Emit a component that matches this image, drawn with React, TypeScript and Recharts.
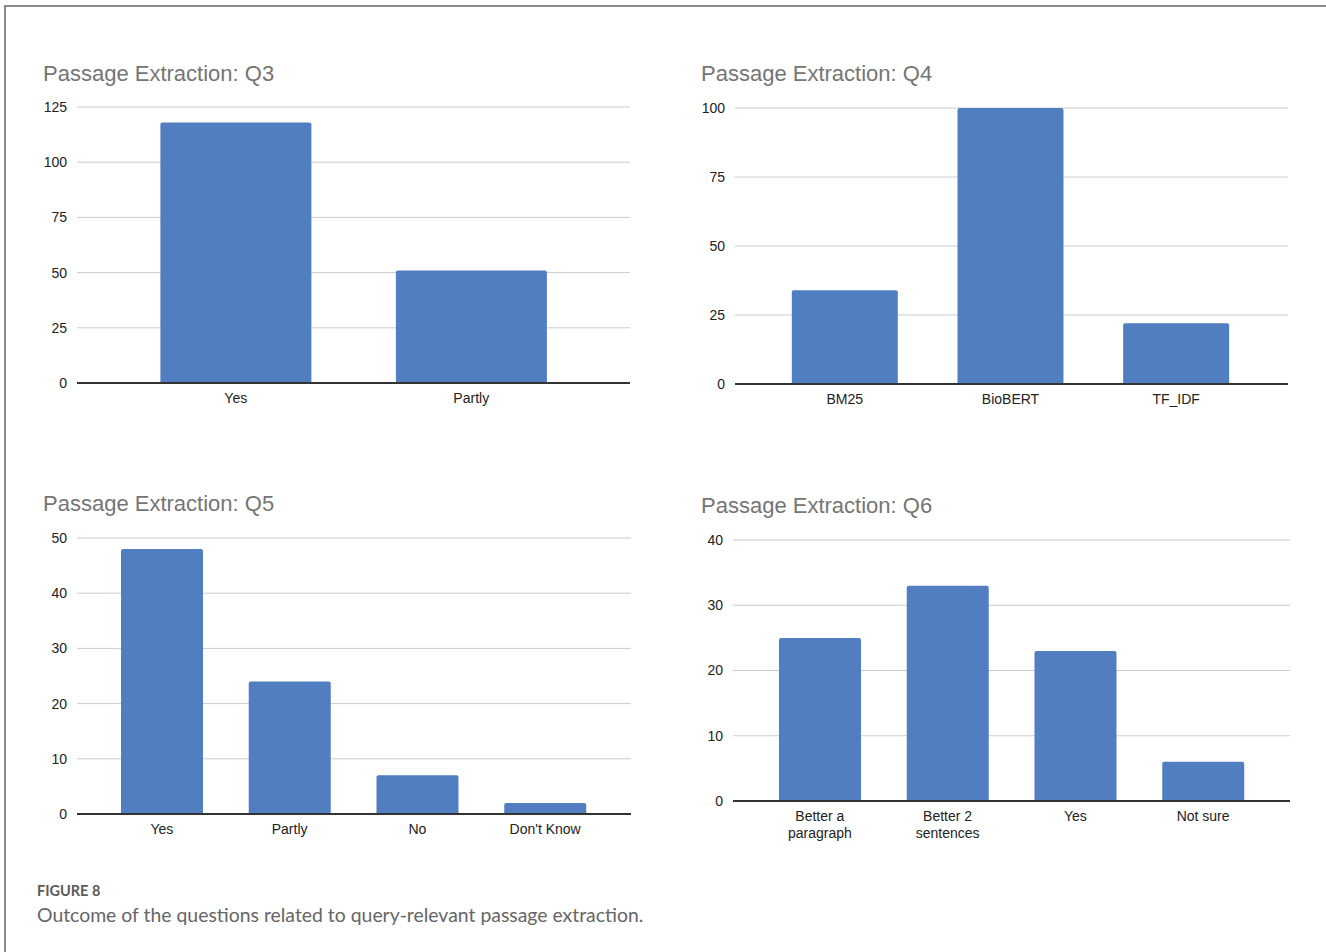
import React from "react";
import { Bar, BarChart, CartesianGrid, XAxis, YAxis } from "recharts";

// Passage Extraction survey answers
const q3Labels = ["Yes", "Partly"];
const q3Counts = [118, 51];
const q3Ticks = [0, 25, 50, 75, 100, 125];

const q4Labels = ["BM25", "BioBERT", "TF_IDF"];
const q4Counts = [34, 100, 22];
const q4Ticks = [0, 25, 50, 75, 100];

const q5Labels = ["Yes", "Partly", "No", "Don't Know"];
const q5Counts = [48, 24, 7, 2];
const q5Ticks = [0, 10, 20, 30, 40, 50];

const q6Labels = ["Better a paragraph", "Better 2 sentences", "Yes", "Not sure"];
const q6Counts = [25, 33, 23, 6];
const q6Ticks = [0, 10, 20, 30, 40];

const BAR_COLOR = "#507ec0";
const FONT = "'Liberation Sans', Arial, sans-serif";

function toRows(labels: string[], counts: number[]) {
  return labels.map((label, i) => ({ label, count: counts[i] }));
}

// wraps long category names onto two lines like the original
function WrappedTick(props: any) {
  const { x, y, payload } = props;
  const text: string = payload.value;
  let lines = [text];
  if (text.length > 12) {
    const cut = text.lastIndexOf(" ");
    lines = [text.slice(0, cut), text.slice(cut + 1)];
  }
  return (
    <text x={x} y={y} textAnchor="middle" fill="#222" fontSize={14} fontFamily={FONT}>
      {lines.map((line, i) => (
        <tspan key={i} x={x} dy={i === 0 ? "0.71em" : 17}>
          {line}
        </tspan>
      ))}
    </text>
  );
}

interface PanelProps {
  title: string;
  labels: string[];
  counts: number[];
  ticks: number[];
  left: number;
  top: number;
  width: number;
  height: number;
  axisWidth: number;
  pad: [number, number];
  titleLeft: number;
  titleTop: number;
}

function Panel(p: PanelProps) {
  const data = toRows(p.labels, p.counts);
  return (
    <>
      <div
        style={{
          position: "absolute",
          left: p.titleLeft,
          top: p.titleTop,
          fontSize: 22,
          lineHeight: "26px",
          color: "#757575",
          fontFamily: FONT,
          whiteSpace: "nowrap",
        }}
      >
        {p.title}
      </div>
      <div style={{ position: "absolute", left: p.left, top: p.top }}>
        <BarChart
          width={p.width}
          height={p.height}
          data={data}
          margin={{ top: 10, right: 10, left: 0, bottom: 4 }}
          barCategoryGap="18%"
        >
          <CartesianGrid vertical={false} stroke="#cccccc" strokeWidth={1} />
          <XAxis
            dataKey="label"
            height={40}
            interval={0}
            tickLine={false}
            tickSize={0}
            tickMargin={10}
            padding={{ left: p.pad[0], right: p.pad[1] }}
            axisLine={{ stroke: "#333333", strokeWidth: 2 }}
            tick={<WrappedTick />}
          />
          <YAxis
            width={p.axisWidth}
            domain={[0, p.ticks[p.ticks.length - 1]]}
            ticks={p.ticks}
            axisLine={false}
            tickLine={false}
            tickSize={0}
            tickMargin={10}
            tick={{ fill: "#222222", fontSize: 14, fontFamily: FONT }}
          />
          <Bar dataKey="count" fill={BAR_COLOR} radius={[2, 2, 0, 0]} isAnimationActive={false} />
        </BarChart>
      </div>
    </>
  );
}

export default function App() {
  return (
    <div
      style={{
        position: "absolute",
        left: 0,
        top: 0,
        width: 1326,
        height: 952,
        overflow: "hidden",
        background: "#fff",
        fontFamily: FONT,
      }}
    >
      <div
        style={{
          position: "absolute",
          left: 4,
          top: 5,
          width: 1400,
          height: 1000,
          borderTop: "2px solid #8a8a8a",
          borderLeft: "2px solid #8a8a8a",
        }}
      />
      <Panel
        title="Passage Extraction: Q3"
        labels={q3Labels}
        counts={q3Counts}
        ticks={q3Ticks}
        left={0}
        top={97}
        width={640}
        height={330}
        axisWidth={77}
        pad={[41, 41]}
        titleLeft={43}
        titleTop={61}
      />
      <Panel
        title="Passage Extraction: Q4"
        labels={q4Labels}
        counts={q4Counts}
        ticks={q4Ticks}
        left={658}
        top={98}
        width={640}
        height={330}
        axisWidth={77}
        pad={[27, 29]}
        titleLeft={701}
        titleTop={61}
      />
      <Panel
        title="Passage Extraction: Q5"
        labels={q5Labels}
        counts={q5Counts}
        ticks={q5Ticks}
        left={0}
        top={528}
        width={641}
        height={330}
        axisWidth={77}
        pad={[21, 22]}
        titleLeft={43}
        titleTop={491}
      />
      <Panel
        title="Passage Extraction: Q6"
        labels={q6Labels}
        counts={q6Counts}
        ticks={q6Ticks}
        left={656}
        top={530}
        width={644}
        height={315}
        axisWidth={77}
        pad={[23, 23]}
        titleLeft={701}
        titleTop={493}
      />
      <div
        style={{
          position: "absolute",
          left: 37,
          top: 882,
          fontFamily: "Lato, 'Open Sans', sans-serif",
          fontWeight: 700,
          fontSize: 14.5,
          lineHeight: "18px",
          color: "#5a5a5a",
        }}
      >
        FIGURE 8
      </div>
      <div
        style={{
          position: "absolute",
          left: 37,
          top: 903,
          fontFamily: "Lato, 'Open Sans', sans-serif",
          fontSize: 19.4,
          lineHeight: "24px",
          color: "#666",
          whiteSpace: "nowrap",
        }}
      >
        Outcome of the questions related to query-relevant passage extraction.
      </div>
    </div>
  );
}
